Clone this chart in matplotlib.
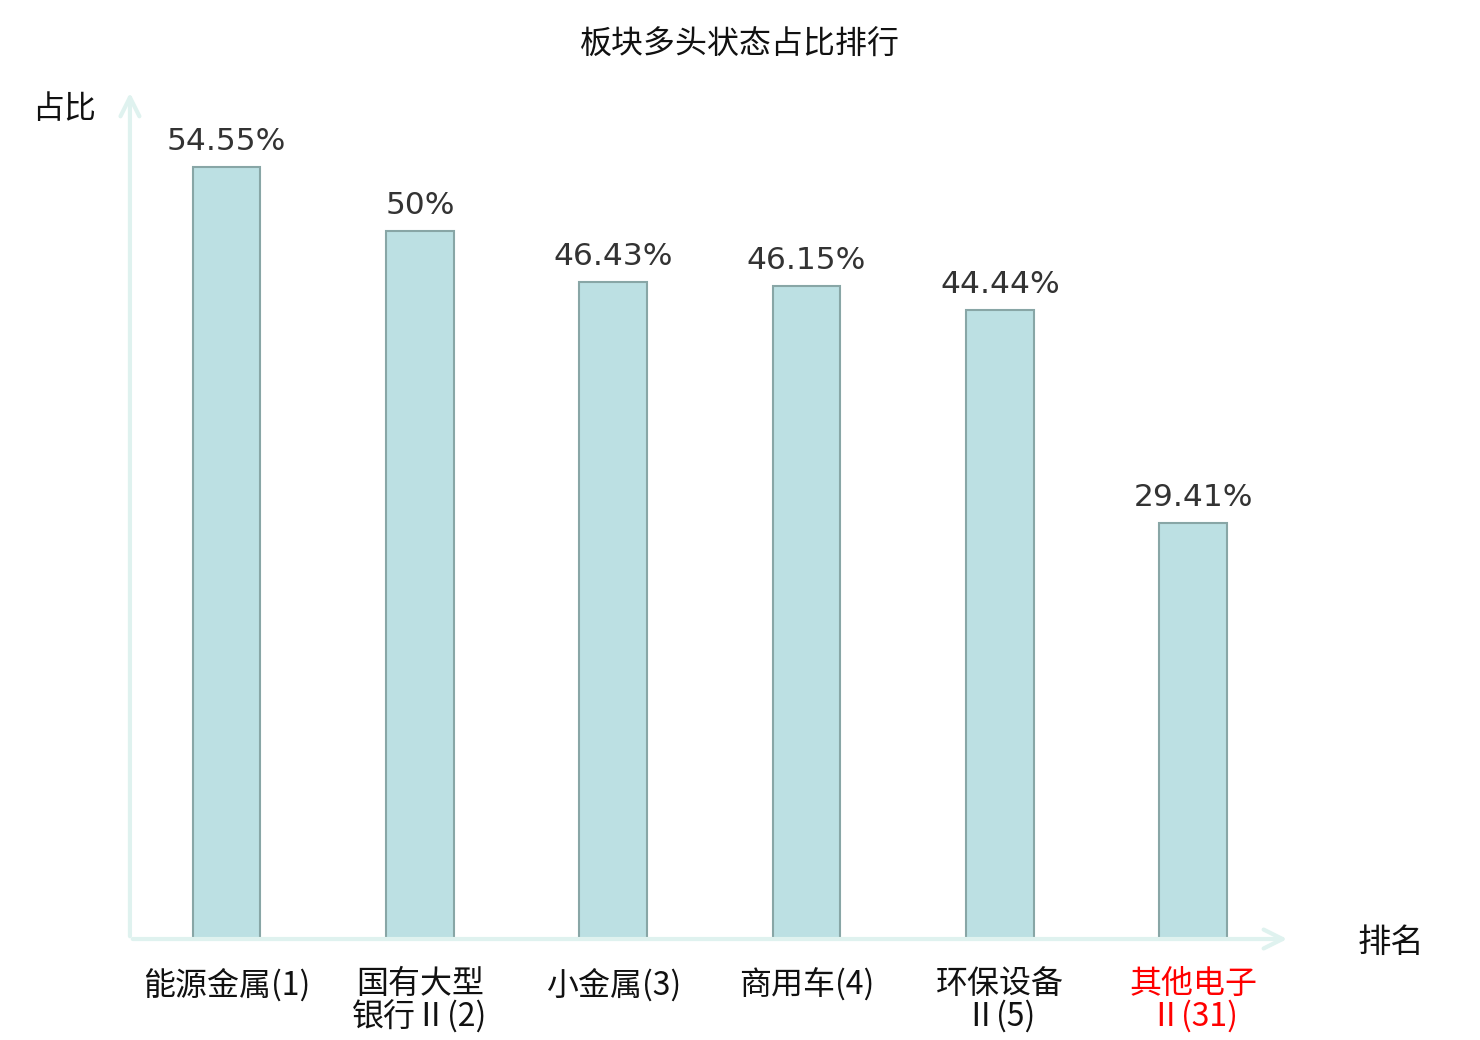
import numpy as np
import matplotlib
matplotlib.use("Agg")
import matplotlib.pyplot as plt

plt.rcParams['font.family'] = ['Noto Sans CJK SC', 'DejaVu Sans']

categories = ['能源金属(1)', '国有大型\n银行Ⅱ(2)', '小金属(3)', '商用车(4)', '环保设备\nⅡ(5)', '其他电子\nⅡ(31)']
values = [54.55, 50, 46.43, 46.15, 44.44, 29.41]
value_labels = ['54.55%', '50%', '46.43%', '46.15%', '44.44%', '29.41%']
label_colors = ['#111111', '#111111', '#111111', '#111111', '#111111', '#ff0000']

axis_color = '#dff2ef'

fig = plt.figure(figsize=(14.8, 10.4), dpi=100)
ax = fig.add_axes([0.0878, 0.0971, 0.7838, 0.8164])

x = np.arange(len(values))
ax.bar(x, values, width=0.35, color='#bce0e3', edgecolor='#88a6a6', linewidth=1.5, zorder=3)
for xi, v, t in zip(x, values, value_labels):
    ax.text(xi, v + 0.8, t, ha='center', va='bottom', fontsize=22.5,
            color='#333333', family=['DejaVu Sans'])

ax.set_xlim(-0.5, 5.5)
ax.set_ylim(0, 60)
for s in ax.spines.values():
    s.set_visible(False)
ax.set_yticks([])
ax.set_xticks(x)
ax.set_xticklabels(categories, fontsize=23, linespacing=1.0, va='top')
for lbl, c in zip(ax.get_xticklabels(), label_colors):
    lbl.set_color(c)
ax.tick_params(axis='x', length=0, pad=21)

# axes with arrows
ax.annotate('', xy=(1.0, 0), xytext=(0, 0), xycoords='axes fraction',
            arrowprops=dict(arrowstyle='->', color=axis_color, lw=3, mutation_scale=34))
ax.annotate('', xy=(0, 1.0), xytext=(0, 0), xycoords='axes fraction',
            arrowprops=dict(arrowstyle='->', color=axis_color, lw=3, mutation_scale=34))

fig.text(0.043, 0.895, '占比', fontsize=23, ha='center', va='center', color='#111111')
fig.text(0.94, 0.094, '排名', fontsize=24, ha='center', va='center', color='#111111')
fig.text(0.5, 0.957, '板块多头状态占比排行', fontsize=23, ha='center', va='center', color='#111111')

fig.savefig('out.png', dpi=100)
